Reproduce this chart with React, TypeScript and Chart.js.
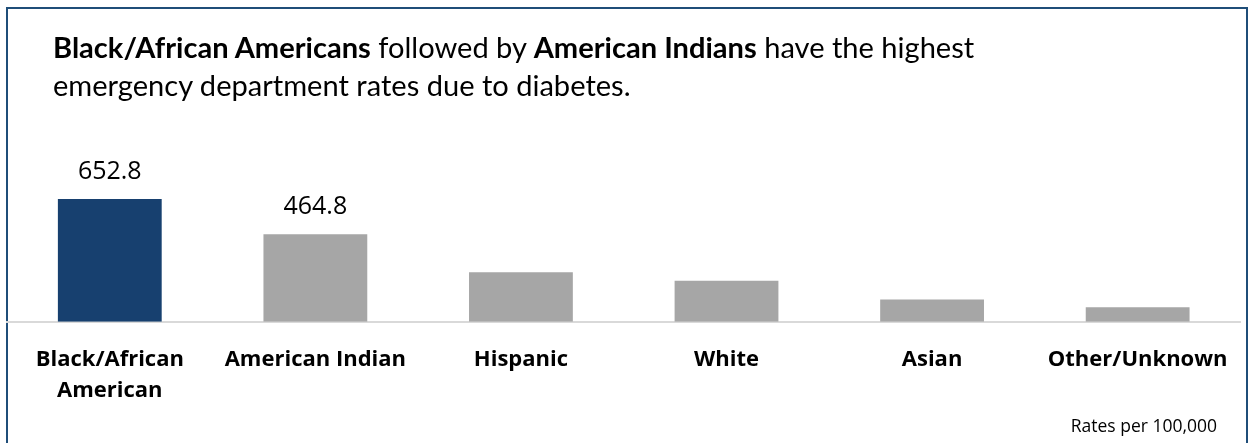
import React, { useEffect, useMemo, useRef } from "react";
import { Chart, registerables } from "chart.js";

Chart.register(...registerables);

const categories: (string | string[])[] = [
  ["Black/African", "American"],
  "American Indian",
  "Hispanic",
  "White",
  "Asian",
  "Other/Unknown",
];
const rates: number[] = [652.8, 464.8, 263, 217, 118, 77];
const valueLabels: string[] = ["652.8", "464.8", "", "", "", ""];
const barColors: string[] = ["#17406F", "#A6A6A6", "#A6A6A6", "#A6A6A6", "#A6A6A6", "#A6A6A6"];
const yMax = 700;
const footNote = "Rates per 100,000";
const titleLine1: [string, boolean][] = [
  ["Black/African Americans", true],
  [" followed by ", false],
  ["American Indians", true],
  [" have the highest", false],
];
const titleLine2 = "emergency department rates due to diabetes.";

const FONT = "'Open Sans', 'Noto Sans', sans-serif";
const TITLE_FONT = "Lato, 'Open Sans', sans-serif";

function measureTitleSize(): number {
  try {
    const c = document.createElement("canvas");
    const ctx = c.getContext("2d");
    if (!ctx) return 27;
    let w1 = 0;
    for (const [t, b] of titleLine1) {
      ctx.font = `${b ? "bold " : ""}100px ${TITLE_FONT}`;
      w1 += ctx.measureText(t).width;
    }
    ctx.font = `100px ${TITLE_FONT}`;
    const w2 = ctx.measureText(titleLine2).width;
    const s1 = (100 * 902) / w1;
    const s2 = (100 * 592) / w2;
    return (s1 + s2) / 2;
  } catch (e) {
    return 27;
  }
}

const valueLabelPlugin = {
  id: "valueLabels",
  afterDatasetsDraw(chart: any) {
    const ctx = chart.ctx;
    const meta = chart.getDatasetMeta(0);
    ctx.save();
    ctx.font = `25px ${FONT}`;
    ctx.fillStyle = "#000";
    ctx.textAlign = "center";
    ctx.textBaseline = "middle";
    meta.data.forEach((bar: any, i: number) => {
      const t = valueLabels[i];
      if (t) ctx.fillText(t, bar.x, bar.y - 27);
    });
    ctx.restore();
  },
};

const footNotePlugin = {
  id: "footNote",
  afterDraw(chart: any) {
    const ctx = chart.ctx;
    ctx.save();
    ctx.font = `17.5px ${FONT}`;
    ctx.fillStyle = "#000";
    ctx.textAlign = "right";
    ctx.textBaseline = "middle";
    ctx.fillText(footNote, 1217, 427);
    ctx.restore();
  },
};

export default function App() {
  const ref = useRef<HTMLCanvasElement | null>(null);
  const titleSize = useMemo(() => measureTitleSize(), []);

  useEffect(() => {
    document.body.style.margin = "0";
    if (!ref.current) return;
    const chart = new Chart(ref.current, {
      type: "bar",
      data: {
        labels: categories,
        datasets: [
          {
            data: rates,
            backgroundColor: barColors,
            barPercentage: 0.505,
            categoryPercentage: 1,
          },
        ],
      },
      options: {
        animation: false,
        responsive: false,
        maintainAspectRatio: false,
        layout: { padding: { left: 7, right: 6, top: 190, bottom: 14 } },
        plugins: {
          legend: { display: false },
          tooltip: { enabled: false },
          title: { display: false },
        },
        scales: {
          x: {
            grid: { display: false, drawTicks: false },
            border: { display: true, color: "#D9D9D9", width: 2 },
            ticks: {
              color: "#000",
              padding: 22,
              maxRotation: 0,
              autoSkip: false,
              font: { family: FONT, size: 22, weight: "bold", lineHeight: 1.44 },
            },
          },
          y: {
            display: false,
            min: 0,
            max: yMax,
          },
        },
      },
      plugins: [valueLabelPlugin, footNotePlugin],
    });
    return () => chart.destroy();
  }, []);

  const lineH = 38.5;
  const titleTop = 57.5 - (lineH / 2 + titleSize * 0.36);

  return (
    <div style={{ position: "relative", width: 1250, height: 443, background: "#fff", overflow: "hidden" }}>
      <div
        style={{
          position: "absolute",
          left: 6,
          top: 7,
          width: 1242,
          height: 460,
          borderLeft: "2px solid #1F4E79",
          borderTop: "2px solid #1F4E79",
          borderRight: "2px solid #1F4E79",
          boxSizing: "border-box",
        }}
      />
      <canvas ref={ref} width={1250} height={443} style={{ position: "absolute", left: 0, top: 0 }} />
      <div
        style={{
          position: "absolute",
          left: 53,
          top: titleTop,
          fontFamily: TITLE_FONT,
          fontSize: titleSize,
          lineHeight: `${lineH}px`,
          color: "#000",
          whiteSpace: "nowrap",
        }}
      >
        {titleLine1.map(([t, b], i) =>
          b ? <b key={i}>{t}</b> : <span key={i}>{t}</span>
        )}
        <br />
        {titleLine2}
      </div>
    </div>
  );
}
